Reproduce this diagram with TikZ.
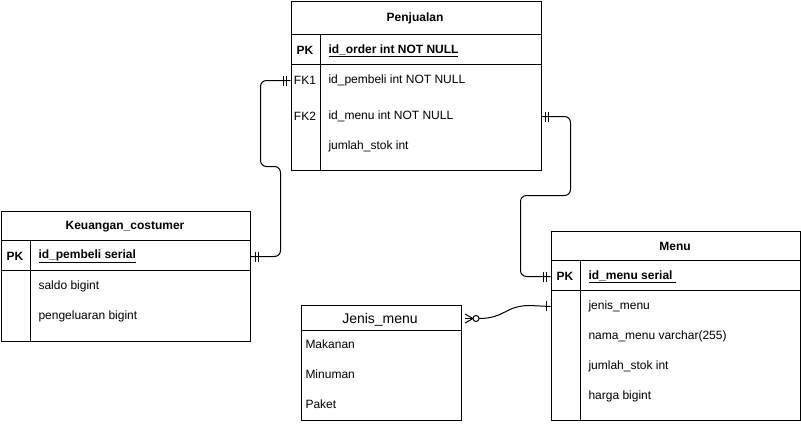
\documentclass[tikz,border=0pt]{standalone}
\usepackage{fontspec}
\setmainfont{Liberation Sans}
\begin{document}
\begin{tikzpicture}[x=1pt,y=-1pt,line width=1pt,
  box/.style={draw, rectangle, inner sep=0pt, anchor=north west},
  ttl/.style={font=\fontsize{12pt}{14pt}\selectfont\bfseries, inner sep=0pt, yshift=-1.5pt},
  ttlb/.style={font=\fontsize{14pt}{16pt}\selectfont, inner sep=0pt, yshift=-1.5pt},
  fld/.style={font=\fontsize{12pt}{14pt}\selectfont, anchor=west, inner sep=0pt, yshift=-1.5pt},
  key/.style={font=\fontsize{12pt}{14pt}\selectfont, inner sep=0pt, yshift=-1.5pt},
  pkf/.style={font=\fontsize{12pt}{14pt}\selectfont\bfseries, anchor=west, inner sep=0pt, yshift=-1.5pt},
  conn/.style={draw, line width=1pt, rounded corners=6pt},
  mk/.style={draw, line width=1pt}
]
\useasboundingbox (0,0) rectangle (801,424);
\fill[white] (0,0) rectangle (801,424);

% ---------- Penjualan ----------
\node[box, minimum width=250pt, minimum height=169pt] (pen) at (290.5,0.5) {};
\node[ttl] (pent) at (415,17) {Penjualan};
\draw (290.5,34) -- (540.5,34);
\draw (290.5,64) -- (540.5,64);
\draw (320,34) -- (320,169.5);
\node[key,font=\fontsize{12pt}{14pt}\selectfont\bfseries] (penpk) at (305,49) {PK};
\node[pkf] (penid) at (328,49) {\underline{id\_order int NOT NULL}};
\node[key] (fk1) at (305,79) {FK1};
\node[fld] (penf1) at (328,79) {id\_pembeli int NOT NULL};
\node[key] (fk2) at (305,115) {FK2};
\node[fld] (penf2) at (328,115) {id\_menu int NOT NULL};
\node[fld] (penf3) at (328,145) {jumlah\_stok int};

% ---------- Keuangan_costumer ----------
\node[box, minimum width=249pt, minimum height=130pt] (keu) at (0.5,210.5) {};
\node[ttl] (keut) at (125,225) {Keuangan\_costumer};
\draw (0.5,240.5) -- (249.5,240.5);
\draw (0.5,270.5) -- (249.5,270.5);
\draw (30.5,240.5) -- (30.5,340.5);
\node[key,font=\fontsize{12pt}{14pt}\selectfont\bfseries] (keupk) at (15,255) {PK};
\node[pkf] (keuid) at (38,255) {\underline{id\_pembeli serial}};
\node[fld] (keuf1) at (38,285) {saldo bigint};
\node[fld] (keuf2) at (38,315) {pengeluaran bigint};

% ---------- Menu ----------
\node[box, minimum width=249pt, minimum height=189pt] (men) at (550.5,230.5) {};
\node[ttl] (ment) at (675,245) {Menu};
\draw (550.5,260.5) -- (799.5,260.5);
\draw (550.5,290.5) -- (799.5,290.5);
\draw (580.5,260.5) -- (580.5,419.5);
\node[key,font=\fontsize{12pt}{14pt}\selectfont\bfseries] (menpk) at (565,275) {PK};
\node[pkf] (menid) at (588,275) {\underline{id\_menu serial\ }};
\node[fld] (menf1) at (588,305) {jenis\_menu};
\node[fld] (menf2) at (588,335) {nama\_menu varchar(255)};
\node[fld] (menf3) at (588,365) {jumlah\_stok int};
\node[fld] (menf4) at (588,395) {harga bigint};

% ---------- Jenis_menu ----------
\node[box, minimum width=160pt, minimum height=115pt] (jm) at (300.5,304.5) {};
\node[ttlb] (jmt) at (380,318) {Jenis\_menu};
\draw (300.5,330.5) -- (460.5,330.5);
\node[fld] (jmf1) at (305,343) {Makanan};
\node[fld] (jmf2) at (305,373) {Minuman};
\node[fld] (jmf3) at (305,403) {Paket};

% ---------- connectors ----------
\coordinate (a1) at (260.5,166.5);
\coordinate (a2) at (280.5,166.5);
\draw[conn] (pen.west |- fk1) -| (a1) -- (a2) |- (keu.east |- keupk);
\draw[mk] ([xshift=-4pt]pen.west |- fk1) ++(0,-5) -- ++(0,10);
\draw[mk] ([xshift=-7pt]pen.west |- fk1) ++(0,-5) -- ++(0,10);
\draw[mk] ([xshift=5pt]keu.east |- keupk) ++(0,-5) -- ++(0,10);
\draw[mk] ([xshift=8pt]keu.east |- keupk) ++(0,-5) -- ++(0,10);

\coordinate (b1) at (570.5,195.5);
\coordinate (b2) at (520.5,195.5);
\draw[conn] (pen.east |- fk2) -| (b1) -- (b2) |- (men.west |- menpk);
\draw[mk] ([xshift=4pt]pen.east |- fk2) ++(0,-5) -- ++(0,10);
\draw[mk] ([xshift=7pt]pen.east |- fk2) ++(0,-5) -- ++(0,10);
\draw[mk] ([xshift=-4pt]men.west |- menpk) ++(0,-5) -- ++(0,10);
\draw[mk] ([xshift=-7pt]men.west |- menpk) ++(0,-5) -- ++(0,10);

\coordinate (c0) at (479,318.5);
\coordinate (c1) at (530,305.5);
\draw[line width=1pt] (c0) .. controls (505,318.5) and (505,305.5) .. (c1) -- (men.west |- menf1);
\draw[mk] (465,314) -- (473,318.5) -- (465,323);
\draw[mk] (465,318.5) -- (473,318.5);
\draw[mk] (476,318.5) circle (3pt);
\draw[mk] (546,300.5) -- (546,310.5);
\end{tikzpicture}
\end{document}
